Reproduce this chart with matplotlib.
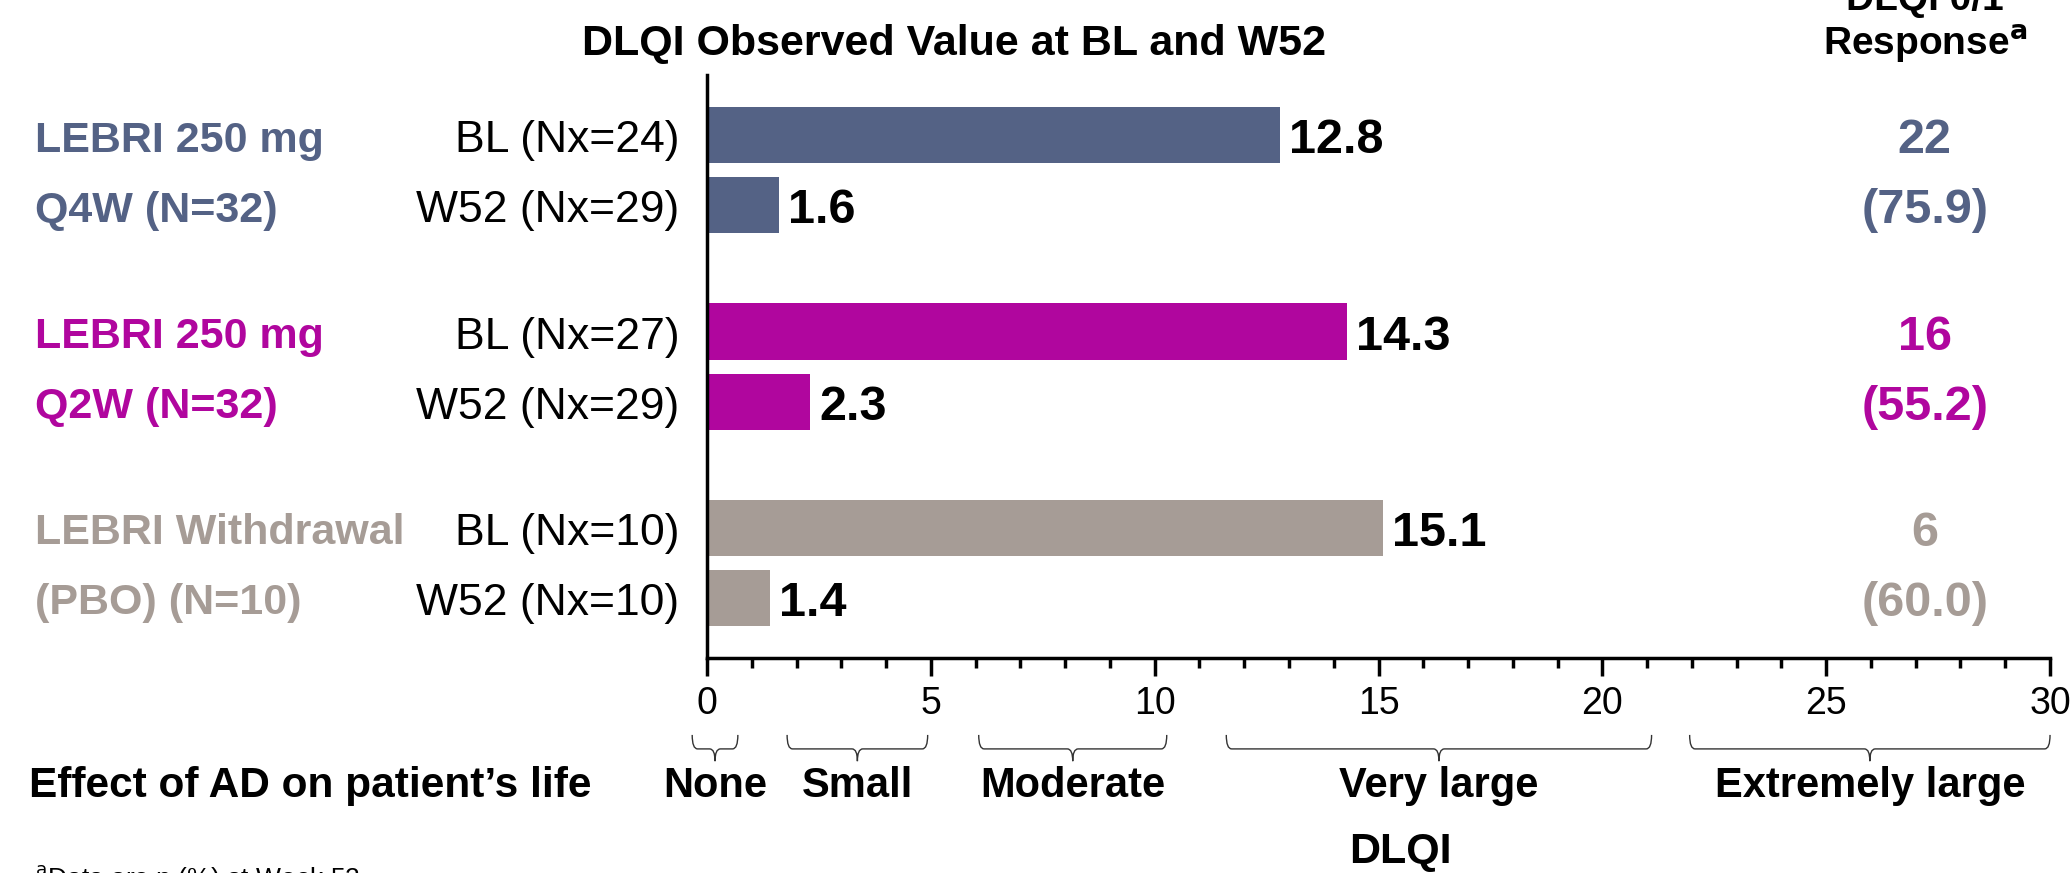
import matplotlib
matplotlib.use("Agg")
from matplotlib import pyplot as plt
from matplotlib.path import Path
from matplotlib.patches import PathPatch
import matplotlib.transforms as mtransforms

plt.rcParams['font.family'] = ['Liberation Sans', 'DejaVu Sans']

# data
groups = ["LEBRI 250 mg\nQ4W (N=32)", "LEBRI 250 mg\nQ2W (N=32)", "LEBRI Withdrawal\n(PBO) (N=10)"]
group_colors = ["#546285", "#B0069E", "#A69C96"]
bar_labels = ["BL (Nx=24)", "W52 (Nx=29)",
              "BL (Nx=27)", "W52 (Nx=29)",
              "BL (Nx=10)", "W52 (Nx=10)"]
dlqi_values = [12.8, 1.6, 14.3, 2.3, 15.1, 1.4]
resp_n = ["22", "16", "6"]
resp_pct = ["(75.9)", "(55.2)", "(60.0)"]
bands = ["None", "Small", "Moderate", "Very large", "Extremely large"]
band_ranges = [(-0.33, 0.69), (1.79, 4.93), (6.07, 10.27), (11.6, 21.1), (21.95, 30.0)]

fig = plt.figure(figsize=(20.72, 8.73), dpi=100)
ax = fig.add_axes([0.3412, 0.2463, 0.9894 - 0.3412, 0.914 - 0.2463])

ypos = []
for g in range(3):
    ypos += [g * 2.8, g * 2.8 + 1]
colors = [group_colors[i // 2] for i in range(6)]

ax.barh(ypos, dlqi_values, height=0.8, color=colors)
ax.set_xlim(0, 30)
ax.set_ylim(7.46, -0.86)
ax.set_yticks([])
ax.set_xticks(range(0, 31, 5))
ax.set_xticks(range(0, 31), minor=True)
ax.tick_params(axis='x', which='major', length=13, width=2.5, labelsize=27, pad=7)
ax.tick_params(axis='x', which='minor', length=7, width=2.5)
for s in ['top', 'right']:
    ax.spines[s].set_visible(False)
for s in ['left', 'bottom']:
    ax.spines[s].set_linewidth(2.5)

# value labels
for y, v in zip(ypos, dlqi_values):
    ax.text(v + 0.2, y + 0.08, f"{v:.1f}", va='center', ha='left', fontsize=35, fontweight='bold')

ftrans = mtransforms.blended_transform_factory(fig.transFigure, ax.transData)
for i, lab in enumerate(bar_labels):
    ax.text(0.328, ypos[i] + 0.08, lab, transform=ftrans, ha='right', va='center', fontsize=32)

for g in range(3):
    l1, l2 = groups[g].split("\n")
    ax.text(0.017, ypos[2 * g] + 0.08, l1, transform=ftrans, ha='left', va='center',
            fontsize=31, fontweight='bold', color=group_colors[g])
    ax.text(0.017, ypos[2 * g + 1] + 0.08, l2, transform=ftrans, ha='left', va='center',
            fontsize=31, fontweight='bold', color=group_colors[g])
    ax.text(27.2, ypos[2 * g] + 0.08, resp_n[g], ha='center', va='center', clip_on=False,
            fontsize=35, fontweight='bold', color=group_colors[g])
    ax.text(27.2, ypos[2 * g + 1] + 0.08, resp_pct[g], ha='center', va='center', clip_on=False,
            fontsize=35, fontweight='bold', color=group_colors[g])

# headers
fig.text(0.4604, 0.95, "DLQI Observed Value at BL and W52", ha='center', va='center',
         fontsize=31, fontweight='bold')
hdr = mtransforms.blended_transform_factory(ax.transData, fig.transFigure)
ax.text(27.2, 1.0, "DLQI 0/1", transform=hdr, ha='center', va='center', fontsize=28, fontweight='bold')
ax.text(27.2, 0.9496, r"Response$^{\mathbf{a}}$", transform=hdr,
        ha='center', va='center', fontsize=28, fontweight='bold')

# braces and bands
btrans = mtransforms.blended_transform_factory(ax.transData, ax.transAxes)
top, mid, bot = -0.132, -0.156, -0.177
r = 0.12
for (a, b), name in zip(band_ranges, bands):
    c = (a + b) / 2
    verts = [(a, top), (a, mid), (a + r, mid), (c - r, mid), (c, mid), (c, bot),
             (c, mid), (c + r, mid), (b - r, mid), (b, mid), (b, top)]
    codes = [Path.MOVETO, Path.CURVE3, Path.CURVE3, Path.LINETO, Path.CURVE3, Path.CURVE3,
             Path.CURVE3, Path.CURVE3, Path.LINETO, Path.CURVE3, Path.CURVE3]
    ax.add_patch(PathPatch(Path(verts, codes), transform=btrans, fill=False,
                           lw=1.0, edgecolor='#333333', clip_on=False))
    ax.text(c, 0.0997, name, transform=hdr, ha='center', va='center', fontsize=30, fontweight='bold')

fig.text(0.014, 0.0997, "Effect of AD on patient\u2019s life", ha='left', va='center',
         fontsize=30.5, fontweight='bold')
fig.text(0.676, 0.024, "DLQI", ha='center', va='center', fontsize=31, fontweight='bold')
fig.text(0.017, 0.012, r"$^{\mathrm{a}}$Data are n (%) at Week 52", ha='left', va='top', fontsize=19)

fig.savefig("out.png", dpi=100)
